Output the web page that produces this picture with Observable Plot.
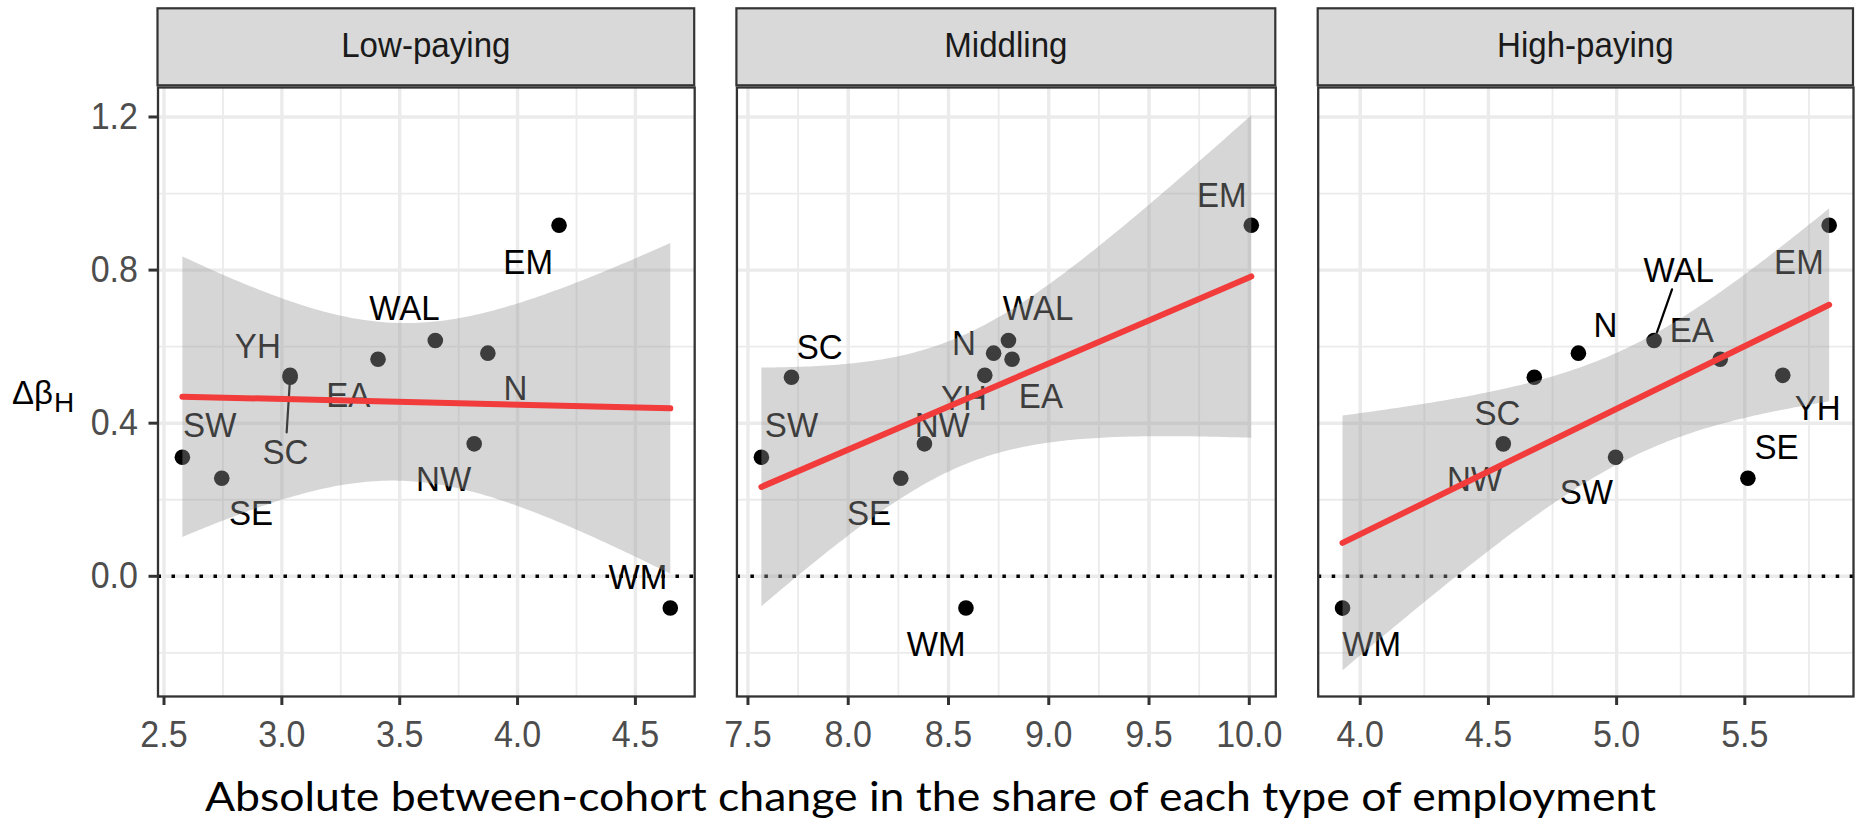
<!DOCTYPE html>
<html>
<head>
<meta charset="utf-8">
<script src="https://cdn.jsdelivr.net/npm/d3@7"></script>
<script src="https://cdn.jsdelivr.net/npm/@observablehq/plot@0.6"></script>
<style>
  html, body { margin: 0; padding: 0; background: #fff; }
  #chart { position: relative; width: 1855px; height: 821px; overflow: hidden; background: #fff; }
  #overlay { position: absolute; left: 0; top: 0; }
  .panel { position: absolute; }
</style>
</head>
<body>
<div id="chart"></div>
<script>
// ---------------- DATA ----------------
const regions = ["EM", "WAL", "N", "EA", "SC", "YH", "NW", "SW", "SE", "WM"];
const deltaBetaH = [0.917, 0.616, 0.583, 0.567, 0.520, 0.525, 0.346, 0.311, 0.256, -0.083];
const lowPayingChange  = [4.176, 3.651, 3.874, 3.408, 3.035, 3.035, 3.816, 2.578, 2.745, 4.648];
const middlingChange   = [10.010, 8.799, 8.725, 8.817, 7.717, 8.681, 8.380, 7.567, 8.262, 8.587];
const highPayingChange = [5.829, 5.146, 4.851, 5.404, 4.679, 5.648, 4.558, 4.996, 5.512, 3.931];

const panelTitles = ["Low-paying", "Middling", "High-paying"];
const xTicksLow  = [2.5, 3.0, 3.5, 4.0, 4.5];
const xTicksMid  = [7.5, 8.0, 8.5, 9.0, 9.5, 10.0];
const xTicksHigh = [4.0, 4.5, 5.0, 5.5];
const xMinorLow  = [2.75, 3.25, 3.75, 4.25];
const xMinorMid  = [7.75, 8.25, 8.75, 9.25, 9.75];
const xMinorHigh = [4.25, 4.75, 5.25, 5.75];
const yTicks = [0.0, 0.4, 0.8, 1.2];
const yMinor = [-0.2, 0.2, 0.6, 1.0];

// repelled label anchors (data units), same order as regions
const labelXLow  = [4.045, 3.520, 3.991, 3.282, 3.015, 2.898, 3.686, 2.694, 2.869, 4.511];
const labelYLow  = [0.821, 0.699, 0.490, 0.472, 0.324, 0.600, 0.252, 0.394, 0.163, -0.003];
const labelXMid  = [9.863, 8.947, 8.577, 8.961, 7.858, 8.577, 8.469, 7.717, 8.104, 8.439];
const labelYMid  = [0.995, 0.699, 0.608, 0.470, 0.599, 0.464, 0.394, 0.394, 0.163, -0.177];
const labelXHigh = [5.711, 5.242, 4.956, 5.293, 4.535, 5.784, 4.446, 4.882, 5.624, 4.045];
const labelYHigh = [0.821, 0.799, 0.655, 0.642, 0.426, 0.438, 0.252, 0.220, 0.337, -0.177];
const segmentsLow = ["SC"];
const segmentsMid = [];
const segmentsHigh = ["WAL"];

const yAxisLabel = "Δβ";
const yAxisSub = "H";
const xAxisTitle = "Absolute between-cohort change in the share of each type of employment";

// ---------------- LAYOUT / STYLE ----------------
const FONT = "'Liberation Sans', Arial, Helvetica, sans-serif";
const SX = 0.92;               // horizontal squeeze of ggplot text
const frameTop = 87, frameBottom = 696, svgTop = 80, svgBottom = 770;
const yDomain = [-0.314, 1.277];
const panels = [
  {xs: lowPayingChange,  lx: labelXLow,  ly: labelYLow,  ticks: xTicksLow,  minor: xMinorLow,  segs: segmentsLow,  x0: 157.5,  x1: 694.2, left: 0,    right: 697.2, yAxis: true},
  {xs: middlingChange,   lx: labelXMid,  ly: labelYMid,  ticks: xTicksMid,  minor: xMinorMid,  segs: segmentsMid,  x0: 736.4,  x1: 1275.3, left: 728, right: 1278.3, yAxis: false},
  {xs: highPayingChange, lx: labelXHigh, ly: labelYHigh, ticks: xTicksHigh, minor: xMinorHigh, segs: segmentsHigh, x0: 1317.7, x1: 1853,  left: 1309,  right: 1855, yAxis: false}
];

const chart = document.getElementById("chart");

// overlay (strips, axis titles)
const overlay = d3.select(chart).append("svg").attr("id", "overlay")
  .attr("width", 1855).attr("height", 821);
panels.forEach((p, i) => {
  overlay.append("rect").attr("x", p.x0).attr("y", 8.3).attr("width", p.x1 - p.x0).attr("height", 77)
    .attr("fill", "#d9d9d9").attr("stroke", "#333").attr("stroke-width", 2.2);
  overlay.append("text").text(panelTitles[i])
    .attr("transform", `translate(${(p.x0 + p.x1) / 2},57.3) scale(${SX},1)`)
    .attr("text-anchor", "middle").attr("font-family", FONT).attr("font-size", 36).attr("fill", "#1a1a1a");
});
const yl = overlay.append("text").attr("x", 12).attr("y", 403.5).attr("font-family", FONT).attr("font-size", 33).attr("fill", "#000");
yl.append("tspan").text(yAxisLabel);
yl.append("tspan").text(yAxisSub).attr("font-size", 28).attr("dy", 8.4).attr("dx", 1);
overlay.append("text").text(xAxisTitle)
  .attr("x", 205).attr("y", 811).attr("font-family", "Lato, 'Open Sans', sans-serif").attr("font-size", 41)
  .attr("fill", "#000").attr("textLength", 1451).attr("lengthAdjust", "spacingAndGlyphs");

// panels
panels.forEach((p) => {
  const data = regions.map((r, i) => ({region: r, x: p.xs[i], y: deltaBetaH[i], lx: p.lx[i], ly: p.ly[i]}));
  const [mn, mx] = d3.extent(p.xs);
  const pad = 0.05 * (mx - mn);
  const width = p.right - p.left;
  const marks = [
    Plot.gridX(p.minor, {stroke: "#ebebeb", strokeOpacity: 1, strokeWidth: 1.8}),
    Plot.gridY(yMinor, {stroke: "#ebebeb", strokeOpacity: 1, strokeWidth: 1.8}),
    Plot.gridX(p.ticks, {stroke: "#ebebeb", strokeOpacity: 1, strokeWidth: 3.4}),
    Plot.gridY(yTicks, {stroke: "#ebebeb", strokeOpacity: 1, strokeWidth: 3.4}),
    Plot.ruleY([0], {stroke: "#000", strokeWidth: 3.5, strokeDasharray: "3.5,10.5"}),
    Plot.arrow(data.filter(d => p.segs.includes(d.region)), {x1: "x", y1: "y", x2: "lx", y2: "ly", insetEnd: 20, headLength: 0, stroke: "#000", strokeWidth: 2.2}),
    Plot.dot(data, {x: "x", y: "y", r: 7.8, fill: "#000"}),
    Plot.text(data, {x: "lx", y: "ly", text: "region", fontSize: 36, fill: "#000", fontFamily: FONT}),
    Plot.linearRegressionY(data, {x: "x", y: "y", ci: 0.95, fill: "#999999", fillOpacity: 0.4, stroke: "#f23b3b", strokeWidth: 6}),
    Plot.frame({stroke: "#333", strokeWidth: 2.3}),
    Plot.axisX(p.ticks, {tickSize: 9, tickPadding: 15, fontSize: 37, color: "#4d4d4d", stroke: "#333", strokeWidth: 3, tickFormat: d3.format(".1f"), label: null})
  ];
  if (p.yAxis) marks.push(Plot.axisY(yTicks, {tickSize: 9, tickPadding: 11, fontSize: 37, color: "#4d4d4d", stroke: "#333", strokeWidth: 3, tickFormat: d3.format(".1f"), label: null}));
  const svg = Plot.plot({
    width, height: svgBottom - svgTop,
    marginLeft: p.x0 - p.left, marginRight: p.right - p.x1,
    marginTop: frameTop - svgTop, marginBottom: svgBottom - frameBottom,
    style: {fontFamily: FONT, background: "transparent", overflow: "visible"},
    x: {domain: [mn - pad, mx + pad], label: null, axis: null},
    y: {domain: yDomain, label: null, axis: null},
    marks
  });
  d3.select(svg).selectAll("text").each(function () {
    const t = this.getAttribute("transform");
    if (t) this.setAttribute("transform", t + ` scale(${SX},1)`);
    else {
      const x = +this.getAttribute("x") || 0, y = +this.getAttribute("y") || 0;
      this.setAttribute("transform", `translate(${x},${y}) scale(${SX},1) translate(${-x},${-y})`);
    }
  });
  const div = document.createElement("div");
  div.className = "panel";
  div.style.left = p.left + "px";
  div.style.top = svgTop + "px";
  div.style.width = width + "px";
  div.appendChild(svg);
  chart.appendChild(div);
});
</script>
</body>
</html>
